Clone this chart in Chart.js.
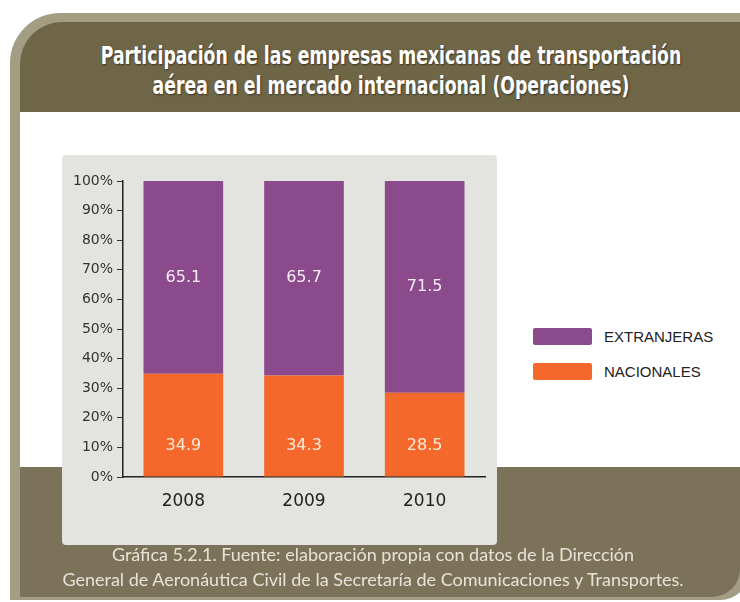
<!DOCTYPE html>
<html lang="es">
  <head>
    <meta charset="UTF-8" />
    <title>Participación de las empresas mexicanas de transportación aérea</title>
    <script src="https://cdn.jsdelivr.net/npm/chart.js"></script>
    <style>
      html, body {
        margin: 0;
        padding: 0;
        background: #ffffff;
        width: 740px;
        height: 602px;
        overflow: hidden;
        position: relative;
      }
      .frame {
        position: absolute;
        left: 10px;
        top: 13px;
        width: 740px;
        height: 587px;
        background: #a39d84;
        border-top-left-radius: 50px;
        border-bottom-right-radius: 30px;
      }
      .header {
        position: absolute;
        left: 20px;
        top: 22px;
        width: 720px;
        height: 90px;
        background: #6e6647;
        border-top-left-radius: 42px;
      }
      .title {
        position: absolute;
        left: 27px;
        top: 41px;
        width: 728px;
        text-align: center;
        color: #ffffff;
        font-family: "DejaVu Sans Condensed", sans-serif;
        font-weight: bold;
        font-size: 24px;
        line-height: 30px;
        text-shadow: 1px 1px 2px rgba(0, 0, 0, 0.5);
        transform: scaleX(0.8);
        transform-origin: 364px 0;
      }
      .white {
        position: absolute;
        left: 20px;
        top: 112px;
        width: 720px;
        height: 355px;
        background: #ffffff;
      }
      .bottom {
        position: absolute;
        left: 20px;
        top: 467px;
        width: 720px;
        height: 130px;
        background: #7b7259;
        border-bottom-right-radius: 28px;
      }
      .chart-box {
        position: absolute;
        left: 62px;
        top: 155px;
        width: 435px;
        height: 390px;
        background: #e3e4df;
        border-radius: 4px;
      }
      .chart-box canvas {
        position: absolute;
        left: 0;
        top: 0;
      }
      .legend {
        position: absolute;
        left: 533px;
        top: 328px;
        font-family: "Liberation Sans", Arial, sans-serif;
        font-size: 15px;
        color: #222;
      }
      .legend-item {
        display: flex;
        align-items: center;
        height: 17px;
        margin-bottom: 18px;
      }
      .legend-swatch {
        width: 59px;
        height: 17px;
        border-radius: 2px;
        margin-right: 12px;
      }
      .caption {
        position: absolute;
        left: 9px;
        top: 542px;
        width: 728px;
        text-align: center;
        color: #e6e3d8;
        font-family: Lato, sans-serif;
        font-size: 18px;
        line-height: 25px;
      }
    </style>
  </head>
  <body>
    <div class="frame"></div>
    <div class="header"></div>
    <div class="title">
      Participación de las empresas mexicanas de transportación<br />
      aérea en el mercado internacional (Operaciones)
    </div>
    <div class="white"></div>
    <div class="bottom"></div>
    <div class="chart-box">
      <canvas id="barChart" width="435" height="390"></canvas>
    </div>
    <div class="legend" id="legend"></div>
    <div class="caption">
      Gráfica 5.2.1. Fuente: elaboración propia con datos de la Dirección<br />
      General de Aeronáutica Civil de la Secretaría de Comunicaciones y Transportes.
    </div>

    <script>
      // data
      const years = ['2008', '2009', '2010'];
      const nacionales = [34.9, 34.3, 28.5];
      const extranjeras = [65.1, 65.7, 71.5];
      const seriesNames = ['NACIONALES', 'EXTRANJERAS'];
      const yMax = 100;
      const yStep = 10;

      const orange = '#f4692b';
      const purple = '#8b4a8b';

      // white numbers inside the bars
      const barLabels = {
        id: 'barLabels',
        afterDatasetsDraw(chart) {
          const ctx = chart.ctx;
          ctx.save();
          ctx.font = '16px "DejaVu Sans"';
          ctx.textAlign = 'center';
          ctx.textBaseline = 'middle';
          chart.data.datasets.forEach((ds, i) => {
            chart.getDatasetMeta(i).data.forEach((bar, j) => {
              const y = i === 0 ? bar.base - 31 : (bar.y + bar.base) / 2;
              ctx.fillStyle = i === 0 ? '#fde9dc' : '#f8ecf6';
              ctx.fillText(ds.data[j].toFixed(1), bar.x, y);
            });
          });
          ctx.restore();
        }
      };

      const chart = new Chart(document.getElementById('barChart'), {
        type: 'bar',
        data: {
          labels: years,
          datasets: [
            { label: seriesNames[0], data: nacionales, backgroundColor: orange },
            { label: seriesNames[1], data: extranjeras, backgroundColor: purple }
          ]
        },
        options: {
          responsive: false,
          animation: false,
          layout: { padding: { top: 26, right: 12, left: 0, bottom: 0 } },
          datasets: { bar: { categoryPercentage: 1, barPercentage: 0.66 } },
          plugins: { legend: { display: false }, tooltip: { enabled: false } },
          scales: {
            x: {
              stacked: true,
              grid: { display: false },
              border: { display: true, color: '#222', width: 1.5 },
              ticks: { color: '#222', font: { family: 'DejaVu Sans', size: 17 }, padding: 6 },
              afterFit(s) { s.height = 68; }
            },
            y: {
              stacked: true,
              min: 0,
              max: yMax,
              grid: { drawOnChartArea: false, drawTicks: true, tickLength: 6, color: '#333' },
              border: { display: true, color: '#222', width: 1.5 },
              ticks: {
                stepSize: yStep,
                color: '#333',
                padding: 4,
                font: { family: 'DejaVu Sans', size: 14 },
                callback: v => v + '%'
              },
              afterFit(s) { s.width = 61; }
            }
          }
        },
        plugins: [barLabels]
      });

      // legend, top entry is the upper series
      const legend = document.getElementById('legend');
      chart.data.datasets.slice().reverse().forEach(ds => {
        const item = document.createElement('div');
        item.className = 'legend-item';
        const sw = document.createElement('div');
        sw.className = 'legend-swatch';
        sw.style.background = ds.backgroundColor;
        const txt = document.createElement('span');
        txt.textContent = ds.label;
        item.appendChild(sw);
        item.appendChild(txt);
        legend.appendChild(item);
      });
    </script>
  </body>
</html>
